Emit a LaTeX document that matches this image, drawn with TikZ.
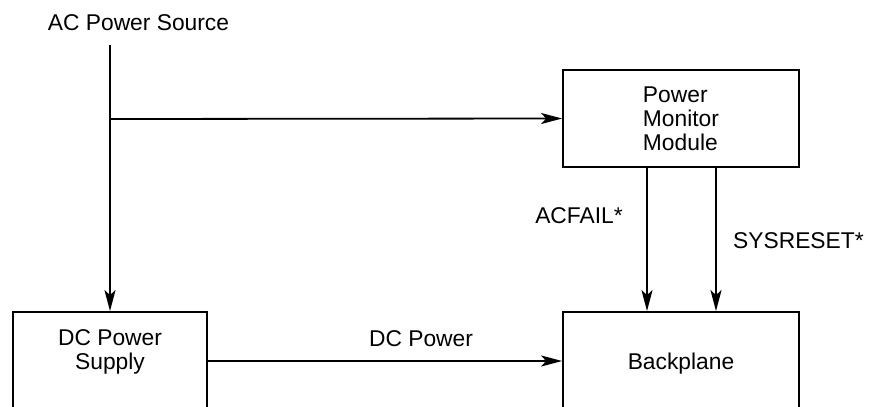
\documentclass[tikz,border=0pt]{standalone}
\usepackage{fontspec}
\setmainfont{Liberation Sans}
\usetikzlibrary{arrows.meta}
\usetikzlibrary{positioning}

\begin{document}
\begin{tikzpicture}[x=1pt,y=1pt,yscale=-1,
  every node/.style={inner sep=0pt, font=\fontsize{22.8}{24}\selectfont},
  blk/.style={draw, line width=1.8pt, minimum width=236pt},
  wire/.style={line width=1.8pt},
  arr/.style={wire, -{Stealth[length=21pt,width=11pt,inset=5pt]}}]
\useasboundingbox (0,0) rectangle (873,407);

% Text Node
\node (acsrc) [anchor=base] at (138.5,30) {AC Power Source};
\coordinate (actop) at (110,45);
\coordinate (branch) at (110,119);

%Shape: Rectangle
\node (pmm) [blk, minimum height=97pt, align=left] at (681,118.5) {Power\\Monitor\\Module};
%Shape: Rectangle
\node (bp) [blk, minimum height=98pt, text depth=0pt] at (681,361) {Backplane};
%Shape: Rectangle
\node (dcs) [blk, minimum width=194pt, minimum height=98pt] at (110,361) {};
% Text Node
\node (dcstext) [anchor=north, align=center] at (110,329) {DC Power\\Supply};

%Straight Lines
\draw [arr] (actop) -- (dcs.north);
\draw [arr] (branch) -- (pmm.west);
\draw [arr] (dcs.east) -- (bp.west);
\draw [arr] ([xshift=-34pt]pmm.south) -- ([xshift=-34pt]bp.north);
\draw [arr] ([xshift=35pt]pmm.south) -- ([xshift=35pt]bp.north);

% Text Node
\node (dcpow) [anchor=base] at (421,346) {DC Power};
\node (acfail) [anchor=base] at (579,223) {ACFAIL*};
\node (sysrst) [anchor=base west] at (733,248) {SYSRESET*};

\end{tikzpicture}
\end{document}
